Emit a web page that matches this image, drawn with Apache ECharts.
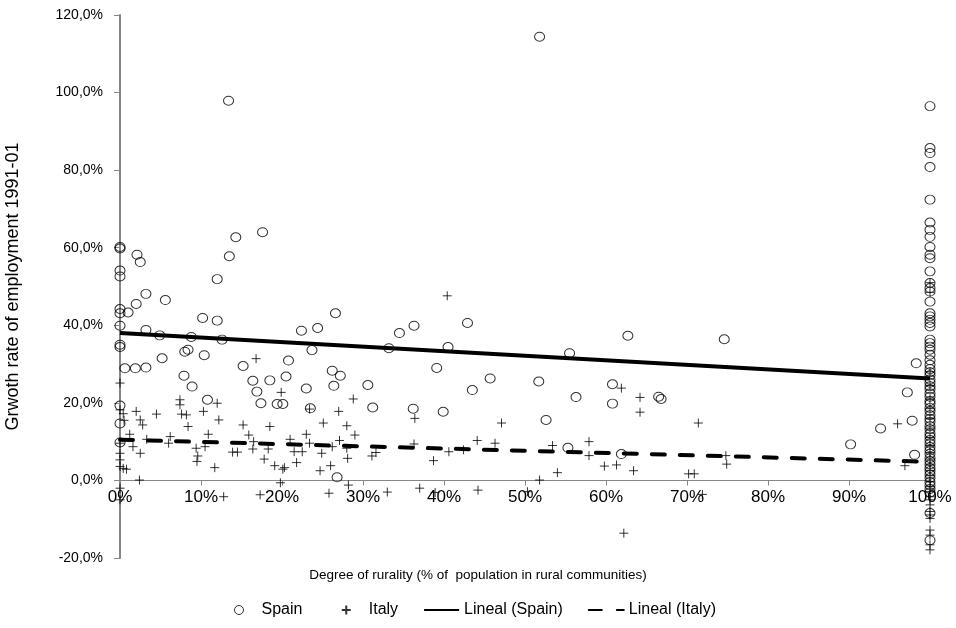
<!DOCTYPE html>
<html>
<head>
<meta charset="utf-8">
<script src="https://cdn.jsdelivr.net/npm/echarts@6/dist/echarts.min.js"></script>
<style>
html,body{margin:0;padding:0;background:#fff;}
#chart{width:956px;height:628px;}
</style>
</head>
<body>
<div id="chart"></div>
<script>
// ---- Data ----
var xTicks = [0, 10, 20, 30, 40, 50, 60, 70, 80, 90, 100];
var yTicks = [-20, 0, 20, 40, 60, 80, 100, 120];

var spainPoints = [
  [0,60.2],[0,59.8],[0,54.1],[0,52.6],[0,44.2],[0,43.1],[0,39.9],[0,35.0],[0,34.4],[0,19.3],[0,14.7],[0,9.8],
  [2.1,58.2],[2.5,56.3],[3.2,48.1],[2.0,45.5],[1.0,43.3],[5.6,46.5],[3.2,38.8],[4.9,37.4],[5.2,31.5],[0.6,28.9],
  [1.9,28.9],[3.2,29.1],[7.9,27.0],[8.9,24.2],[8.0,33.2],[8.4,33.7],[8.8,37.0],[10.4,32.3],[10.2,41.9],[12.0,41.2],
  [12.6,36.3],[12.0,51.9],[13.5,57.8],[14.3,62.7],[17.6,64.0],[10.8,20.8],[15.2,29.5],[16.4,25.7],[16.9,22.9],
  [17.4,19.9],[18.5,25.8],[19.4,19.7],[20.1,19.7],[20.5,26.8],[20.8,30.9],[23.0,23.7],[22.4,38.6],[23.7,33.6],
  [24.4,39.3],[26.6,43.1],[26.2,28.3],[27.2,27.0],[26.4,24.4],[23.5,18.6],[13.4,97.9],[26.8,0.8],
  [34.5,38.0],[36.3,39.9],[33.2,34.1],[30.6,24.6],[31.2,18.8],[36.2,18.5],[39.1,29.0],[39.9,17.7],[40.5,34.4],
  [42.9,40.6],[43.5,23.3],[45.7,26.3],[51.7,25.5],[52.6,15.6],[55.5,32.8],[56.3,21.5],[55.3,8.4],[60.8,24.8],
  [60.8,19.8],[61.9,6.8],[62.7,37.3],[74.6,36.4],[66.5,21.6],[66.8,21.0],[90.2,9.3],[98.3,30.2],[97.2,22.7],
  [97.8,15.4],[93.9,13.4],[98.1,6.6],[51.8,114.4]
];
var spainFullRural = [
  96.5,85.7,84.4,80.8,72.4,66.5,64.6,62.8,60.2,58.2,57.3,53.9,50.9,49.6,48.7,46.1,43.1,42.3,41.4,40.6,39.7,
  36.3,35.4,34.5,33.7,32.4,31.0,29.8,28.7,27.9,27.1,26.0,25.2,24.3,23.5,22.4,21.6,20.5,19.8,18.7,17.9,16.8,
  15.9,15.1,14.0,13.2,12.1,11.3,10.4,9.5,8.6,7.7,6.9,5.8,5.0,4.1,3.2,2.4,1.5,0.6,-0.4,-1.3,-2.2,-3.1,-8.4,-15.4
];

var italyPoints = [
  [0,25.1],[0,18.2],[0.4,17.2],[0.5,15.5],[0,9.6],[0,7.0],[0,5.3],[0,3.6],[0.4,3.1],[0.8,2.9],[0,-2.0],[0,-5.0],
  [16.8,31.4],[19.9,22.7],[7.4,20.8],[7.4,19.5],[12.0,19.9],[2.0,17.8],[2.5,15.6],[4.5,17.1],[7.6,17.1],[8.2,16.9],
  [10.3,17.8],[12.2,15.6],[15.2,14.3],[18.5,13.9],[23.4,18.4],[25.1,14.8],[27.0,17.8],[28.0,14.1],[8.4,13.9],
  [2.8,14.3],[1.2,11.9],[1.6,8.7],[2.5,7.0],[2.4,0.1],[3.3,10.6],[6.2,11.3],[6.0,9.6],[9.4,8.3],[9.6,6.3],[9.5,4.9],
  [10.5,8.7],[10.9,11.9],[11.7,3.3],[12.8,-4.2],[13.9,7.3],[14.5,7.3],[15.9,11.7],[16.5,10.0],[16.4,8.1],[17.8,5.5],
  [18.3,8.1],[19.1,3.8],[20.1,2.9],[20.3,3.3],[19.8,-0.6],[17.3,-3.7],[21.0,10.6],[21.5,7.4],[21.8,4.6],[22.5,7.4],
  [23.0,11.9],[23.4,9.6],[24.9,7.0],[24.7,2.5],[26.0,3.8],[25.8,-3.3],[27.1,10.3],[28.1,5.7],[28.2,-1.2],
  [28.8,21.0],[29.0,11.7],[28.0,8.3],[26.2,8.7],[31.1,6.3],[31.6,7.2],[33.0,-3.0],[36.4,16.0],[36.3,9.4],[37.0,-2.0],
  [38.9,-3.1],[38.7,5.1],[40.6,7.4],[42.4,7.9],[44.1,10.3],[44.2,-2.5],[46.3,9.6],[47.1,14.8],[50.3,-2.9],[51.8,0.1],
  [53.4,9.0],[54.0,2.0],[57.9,10.0],[57.9,6.4],[59.8,3.7],[61.3,4.0],[61.9,23.8],[40.4,47.6],[64.2,21.4],[64.2,17.6],
  [71.4,14.8],[63.4,2.5],[70.2,1.7],[70.9,1.7],[71.9,-3.6],[74.8,6.4],[74.9,4.2],[96.0,14.6],[96.9,3.8],[62.2,-13.6]
];
var italyFullRural = [
  51.0,48.5,28.0,24.5,21.0,18.5,16.0,13.5,11.0,9.0,7.2,5.5,4.0,2.6,1.2,-0.3,-1.6,-2.9,-4.2,-5.0,-6.3,-8.0,-8.9,
  -9.8,-12.8,-14.1,-16.6,-17.9
];

var trendSpain = [[0,38.0],[100,26.3]];
var trendItaly = [[0,10.5],[100,4.8]];

var seriesNames = ['Spain','Italy','Lineal (Spain)','Lineal (Italy)'];
var xTitle = 'Degree of rurality (% of  population in rural communities)';
var yTitle = 'Grwoth rate of employment 1991-01';

// ---- Build ----
var spainData = spainPoints.concat(spainFullRural.map(function(v){return [100,v];}));
var italyData = italyPoints.concat(italyFullRural.map(function(v){return [100,v];}));
var plusPath = 'path://M5,0 L5,10 M0,5 L10,5';
var FONT = 'Liberation Sans, Arial, sans-serif';
var hiddenDot = {color:'rgba(0,0,0,0)', borderWidth:0, opacity:0};

var chart = echarts.init(document.getElementById('chart'), null, {renderer:'canvas'});
chart.setOption({
  animation:false,
  backgroundColor:'#fff',
  textStyle:{fontFamily:FONT, color:'#000'},
  title:{
    text:xTitle, left:'center', top:563,
    textStyle:{fontFamily:FONT, fontSize:13.5, fontWeight:'normal', color:'#000'}
  },
  grid:{left:120, right:26, top:15, bottom:70, containLabel:false, outerBoundsMode:'none'},
  legend:{
    bottom:5, left:229,
    itemWidth:35, itemHeight:9, itemGap:25,
    textStyle:{fontFamily:FONT, fontSize:16, color:'#000'},
    formatter:function(name){ return name === seriesNames[0] ? name + '   ' : name; },
    data:[
      {name:seriesNames[0], itemStyle:{color:'rgba(255,255,255,0)', borderColor:'#000', borderWidth:1}},
      {name:seriesNames[1]},
      {name:seriesNames[2], itemStyle:hiddenDot},
      {name:seriesNames[3], itemStyle:hiddenDot}
    ]
  },
  xAxis:{
    type:'value', min:xTicks[0], max:xTicks[xTicks.length-1], interval:10,
    offset:-77.5,
    axisLine:{onZero:false, lineStyle:{color:'#868686', width:1}},
    axisTick:{show:true, length:5, inside:false, lineStyle:{color:'#868686'}},
    axisLabel:{formatter:function(v){return v+'%';}, fontSize:17, color:'#000', margin:8, fontFamily:FONT},
    splitLine:{show:false}
  },
  yAxis:{
    type:'value', min:yTicks[0], max:yTicks[yTicks.length-1], interval:20,
    axisLine:{show:true, onZero:false, lineStyle:{color:'#868686', width:2}},
    axisTick:{show:true, length:6, inside:false, lineStyle:{color:'#868686', width:1}},
    axisLabel:{formatter:function(v){return v.toFixed(1).replace('.',',')+'%';}, fontSize:14, color:'#000', margin:17, fontFamily:FONT},
    splitLine:{show:false},
    name:yTitle, nameLocation:'middle', nameGap:98, nameRotate:90,
    nameTextStyle:{fontSize:18, color:'#000', fontFamily:FONT}
  },
  series:[
    {
      name:seriesNames[0], type:'scatter', data:spainData, symbol:'circle', symbolSize:[10,9],
      itemStyle:{color:'rgba(255,255,255,0)', borderColor:'#000', borderWidth:1},
      clip:false, z:3
    },
    {
      name:seriesNames[1], type:'scatter', data:italyData, symbol:plusPath, symbolSize:9,
      itemStyle:{color:'rgba(255,255,255,0)', borderColor:'#000', borderWidth:1},
      clip:false, z:3
    },
    {
      name:seriesNames[2], type:'line', data:trendSpain, symbol:'none', showSymbol:false,
      lineStyle:{color:'#000', width:4}, itemStyle:{color:'#000'}, z:4
    },
    {
      name:seriesNames[3], type:'line', data:trendItaly, symbol:'none', showSymbol:false,
      lineStyle:{color:'#000', width:4, type:[13,15], cap:'round'}, itemStyle:{color:'#000'}, z:4
    }
  ]
});
</script>
</body>
</html>
